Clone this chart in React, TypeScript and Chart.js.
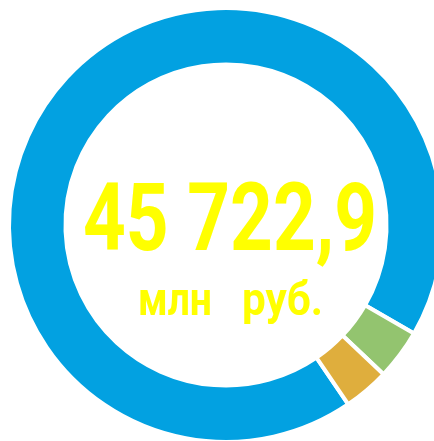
import React, { useEffect, useRef } from "react";
import { Chart, registerables } from "chart.js";

Chart.register(...registerables);

const labels = ["Прочие", "Сегмент 2", "Сегмент 3"];
const values = [42455, 1715, 1553];
const colors = ["#02a1e1", "#93c46f", "#dfae3d"];
const totalText = "45 722,9";
const unitWords = ["млн", "руб."];

function drawFitted(ctx: any, text: string, font: string, left: number, baseline: number, width: number) {
  ctx.font = font;
  const w = ctx.measureText(text).width;
  const s = width / w;
  ctx.save();
  ctx.translate(left, baseline);
  ctx.scale(s, 1);
  ctx.textAlign = "left";
  ctx.fillText(text, 0, 0);
  ctx.restore();
}

const centerText = {
  id: "centerText",
  afterDraw(chart: any) {
    const ctx = chart.ctx;
    const arc = chart.getDatasetMeta(0).data[0];
    const cx = arc.x;
    const cy = arc.y;
    ctx.save();
    ctx.fillStyle = "#ffff00";
    ctx.textBaseline = "alphabetic";
    drawFitted(ctx, totalText, "bold 94px Roboto", cx - 143, cy + 25, 294);
    drawFitted(ctx, unitWords[0], "bold 47px Roboto", cx - 88, cy + 90, 74);
    drawFitted(ctx, unitWords[1], "bold 47px Roboto", cx + 16, cy + 90, 81);
    ctx.restore();
  },
};

export default function App() {
  const ref = useRef<HTMLCanvasElement>(null);
  useEffect(() => {
    const chart = new Chart(ref.current!, {
      type: "doughnut",
      data: {
        labels,
        datasets: [
          {
            data: values,
            backgroundColor: colors,
            borderColor: "#ffffff",
            borderWidth: 4,
          },
        ],
      },
      options: {
        responsive: false,
        animation: false,
        rotation: 145.7,
        radius: 217,
        cutout: 165,
        layout: { padding: 0 },
        plugins: { legend: { display: false }, tooltip: { enabled: false } },
      },
      plugins: [centerText],
    });
    return () => chart.destroy();
  }, []);
  return (
    <div style={{ position: "fixed", left: 0, top: 0, width: 434, height: 441, overflow: "hidden", background: "#fff" }}>
      <canvas ref={ref} width={452} height={450} style={{ position: "absolute", left: 0, top: 0 }} />
    </div>
  );
}
